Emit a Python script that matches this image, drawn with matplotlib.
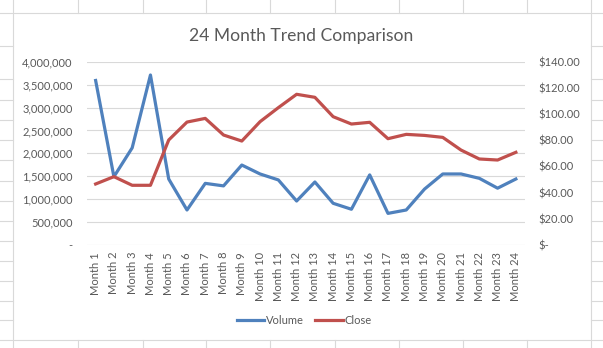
import matplotlib
matplotlib.use("Agg")
import matplotlib.pyplot as plt
from matplotlib.lines import Line2D
from matplotlib.ticker import FuncFormatter

months = [f"Month {i}" for i in range(1, 25)]
volume = [3590000, 1490000, 2120000, 3710000, 1440000, 764000, 1345000, 1290000,
          1745000, 1550000, 1420000, 960000, 1375000, 910000, 780000, 1530000,
          690000, 764000, 1220000, 1550000, 1550000, 1455000, 1240000, 1440000]
close = [46.6, 52.2, 45.6, 45.6, 80.2, 93.9, 96.7, 84.0, 79.4, 94.2, 104.9, 115.1,
         112.8, 98.0, 92.4, 93.7, 81.2, 84.5, 83.7, 82.2, 72.5, 65.7, 64.9, 70.8]
vol_ticks = [0, 500000, 1000000, 1500000, 2000000, 2500000, 3000000, 3500000, 4000000]
close_ticks = [0, 20, 40, 60, 80, 100, 120, 140]

FONT = ["Lato", "DejaVu Sans"]
plt.rcParams['font.family'] = FONT
TXT = "#595959"
GRID = "#d9d9d9"
BLUE = "#4f81bd"
RED = "#c0504d"

W, H = 603, 348
fig = plt.figure(figsize=(W / 100, H / 100), dpi=100)
fig.patch.set_facecolor("white")

def hline(y, x0, x1, color=GRID, lw=0.8):
    fig.add_artist(Line2D([x0 / W, x1 / W], [1 - y / H, 1 - y / H], color=color, lw=lw,
                          transform=fig.transFigure))

def vline(x, y0, y1, color=GRID, lw=0.8):
    fig.add_artist(Line2D([x / W, x / W], [1 - y0 / H, 1 - y1 / H], color=color, lw=lw,
                          transform=fig.transFigure))

# spreadsheet grid around the chart
for x in [78, 143, 206, 270, 335, 399, 463, 527]:
    vline(x, 0, 13)
    vline(x, 340, H)
for y in [46, 79, 100, 120, 140, 160, 181, 201, 221, 241, 261, 281, 301, 320]:
    hline(y, 0, 13)
    hline(y, 591, W)
# chart border
hline(13, 0, W)
hline(340, 0, W)
vline(13, 0, H)
vline(591, 0, H)

ax = fig.add_axes([86.5 / W, 1 - 245 / H, (525 - 86.5) / W, (245 - 61.7) / H])
x = list(range(len(months)))
ax.plot(x, volume, color=BLUE, lw=2.3, solid_joinstyle="round", label="Volume", zorder=3)
ax.set_ylim(0, 4000000)
ax.set_xlim(-0.5, len(months) - 0.5)
ax.set_yticks(vol_ticks)
ax.yaxis.set_major_formatter(FuncFormatter(lambda v, p: "-" if v == 0 else f"{int(v):,}"))
ax.set_xticks(x)
ax.set_xticklabels(months, rotation=90)
ax.grid(axis="y", color=GRID, lw=0.8)
ax.set_axisbelow(True)
for s in ax.spines.values():
    s.set_visible(False)
ax.tick_params(axis="both", length=0, colors=TXT, labelsize=8)
ax.tick_params(axis="y", pad=10)
ax.tick_params(axis="x", pad=5)

ax2 = ax.twinx()
ax2.plot(x, close, color=RED, lw=2.3, solid_joinstyle="round", label="Close", zorder=3)
ax2.set_ylim(0, 140)
ax2.set_yticks(close_ticks)
ax2.yaxis.set_major_formatter(FuncFormatter(lambda v, p: "$-" if v == 0 else f"${v:.2f}"))
for s in ax2.spines.values():
    s.set_visible(False)
ax2.tick_params(axis="y", length=0, colors=TXT, labelsize=8, pad=10)

fig.text(301 / W, 1 - 36 / H, "24 Month Trend Comparison", ha="center", va="center",
         fontsize=12.6, color=TXT)

handles = [Line2D([], [], color=BLUE, lw=2.3), Line2D([], [], color=RED, lw=2.3)]
leg = fig.legend(handles, ["Volume", "Close"], loc="center", bbox_to_anchor=(304 / W, 1 - 320 / H),
                 ncol=2, frameon=False, fontsize=8, handlelength=2.5, handletextpad=0.15,
                 columnspacing=1.0, labelcolor=TXT)

fig.savefig("out.png", dpi=100, facecolor="white")
